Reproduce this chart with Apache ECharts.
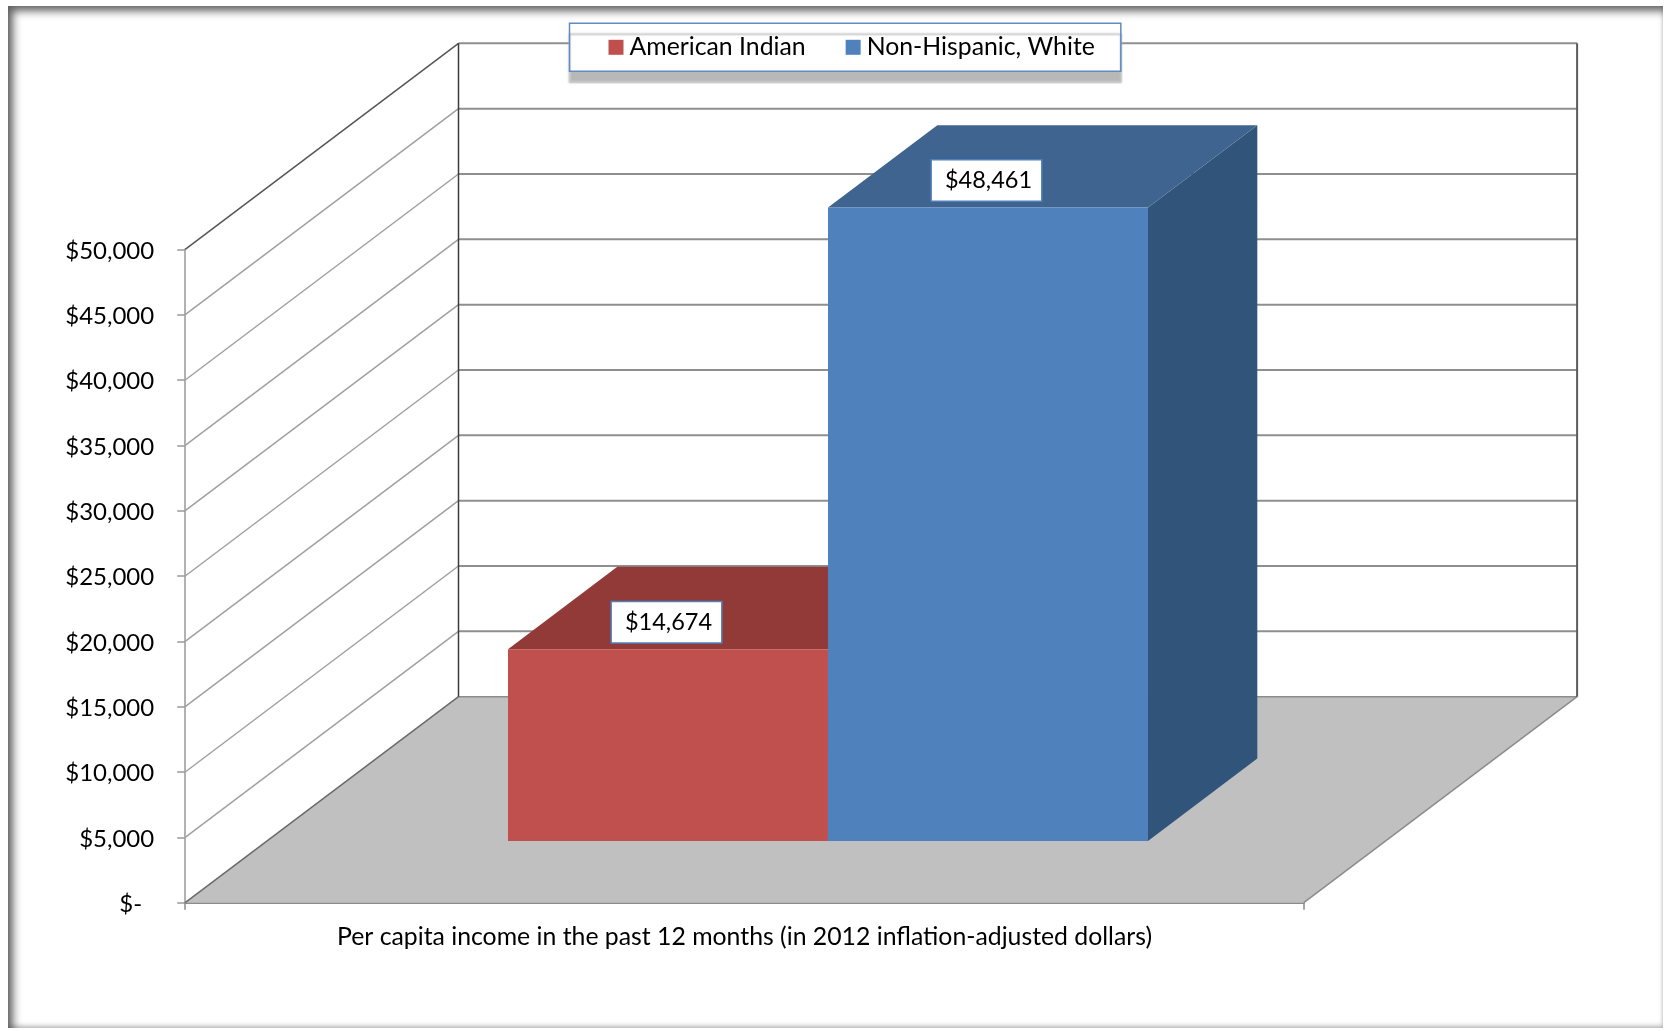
<!DOCTYPE html>
<html>
<head>
<meta charset="utf-8">
<style>
html,body{margin:0;padding:0;background:#fff;width:1670px;height:1031px;overflow:hidden}
#frame{position:absolute;left:8px;top:6px;width:1655px;height:1022px;box-shadow:inset 6px 6px 9px -1px rgba(70,70,70,.85),inset 0 -3px 5px -1px rgba(120,120,120,.5),inset -2px 0 4px -2px rgba(160,160,160,.3)}
#chart{position:absolute;left:0;top:0;width:1670px;height:1031px;filter:blur(0.45px)}
</style>
<script src="https://cdn.jsdelivr.net/npm/echarts@6/dist/echarts.min.js"></script>
</head>
<body>
<div id="frame"></div>
<div id="chart"></div>
<script>
const categories = ['Per capita income in the past 12 months (in 2012 inflation-adjusted dollars)'];
const americanIndian = [14674];
const nonHispanicWhite = [48461];
const yTicks = [0, 5000, 10000, 15000, 20000, 25000, 30000, 35000, 40000, 45000, 50000];

const FONT = 'Lato';
const WALL_DX = 273.3, WALL_DY = 206;     // perspective offset of the back wall
const BAR_FRONT = 0.3, BAR_DEPTH = 0.4;   // bar position in the floor depth
const BAR_SHARE = 320 / 1118.6;           // each bar's share of the category band

function usd(v) {
  return '$' + String(v).replace(/\B(?=(\d{3})+$)/g, ',');
}

function renderFloor(params, api) {
  const cs = params.coordSys;
  const y = api.coord([0, 0])[1];
  const xl = cs.x, xr = cs.x + cs.width;
  return {type: 'group', children: [
    {type: 'polygon', shape: {points: [[xl, y], [xr, y], [xr + WALL_DX, y - WALL_DY], [xl + WALL_DX, y - WALL_DY]]},
      style: {fill: '#c0c0c0', stroke: null}},
    {type: 'line', shape: {x1: xl, y1: y, x2: xl + WALL_DX, y2: y - WALL_DY}, style: {stroke: '#6a6a6a', lineWidth: 1.5}},
    {type: 'line', shape: {x1: xr, y1: y, x2: xr + WALL_DX, y2: y - WALL_DY}, style: {stroke: '#8c8c8c', lineWidth: 1.5}},
    {type: 'line', shape: {x1: xl + WALL_DX, y1: y - WALL_DY, x2: xr + WALL_DX, y2: y - WALL_DY}, style: {stroke: '#8c8c8c', lineWidth: 1.5}}
  ]};
}

function renderGrid(params, api) {
  const cs = params.coordSys;
  const v = api.value(1);
  const y = api.coord([0, v])[1];
  const xl = cs.x, xr = cs.x + cs.width;
  if (v === 0) return {type: 'group', children: []};
  const top = v === yTicks[yTicks.length - 1];
  const children = [
    {type: 'line', shape: {x1: xl, y1: y, x2: xl + WALL_DX, y2: y - WALL_DY},
      style: {stroke: top ? '#555555' : '#a0a0a0', lineWidth: 1.5}},
    {type: 'line', shape: {x1: xl + WALL_DX, y1: y - WALL_DY, x2: xr + WALL_DX, y2: y - WALL_DY},
      style: {stroke: '#8f8f8f', lineWidth: 2}}
  ];
  if (top) {
    const y0 = api.coord([0, 0])[1];
    children.push(
      {type: 'line', shape: {x1: xl + WALL_DX, y1: y - WALL_DY, x2: xl + WALL_DX, y2: y0 - WALL_DY}, style: {stroke: '#3c3c3c', lineWidth: 1.5}},
      {type: 'line', shape: {x1: xr + WALL_DX, y1: y - WALL_DY, x2: xr + WALL_DX, y2: y0 - WALL_DY}, style: {stroke: '#5c5c5c', lineWidth: 2}}
    );
  }
  return {type: 'group', children};
}

function makeBar(slot, front, topFace, sideFace) {
  return function (params, api) {
    const band = api.size([1, 0])[0];
    const w = band * BAR_SHARE;
    const c = api.coord([0, api.value(1)]);
    const base = api.coord([0, 0])[1];
    const ox = WALL_DX * BAR_FRONT, oy = WALL_DY * BAR_FRONT;
    const dx = WALL_DX * BAR_DEPTH, dy = WALL_DY * BAR_DEPTH;
    const x1 = c[0] + ox + 1.5 + (slot - 1) * w, x2 = x1 + w;
    const yTop = c[1] - oy, yBot = base - oy;
    return {type: 'group', children: [
      {type: 'polygon', shape: {points: [[x2, yBot], [x2 + dx, yBot - dy], [x2 + dx, yTop - dy], [x2, yTop]]}, style: {fill: sideFace}},
      {type: 'polygon', shape: {points: [[x1, yTop], [x1 + dx, yTop - dy], [x2 + dx, yTop - dy], [x2, yTop]]}, style: {fill: topFace}},
      {type: 'rect', shape: {x: x1, y: yTop, width: w, height: yBot - yTop}, style: {fill: front}},
      {type: 'text', x: (x1 + x2) / 2 - 1.5, y: yTop - 27, style: {
        text: usd(api.value(1)), fill: '#000', font: '23.5px ' + FONT, align: 'center', verticalAlign: 'middle',
        backgroundColor: '#fff', borderColor: '#4f81bd', borderWidth: 1.5, padding: [8, 9, 8, 13]
      }}
    ]};
  };
}

const chart = echarts.init(document.getElementById('chart'), null, {renderer: 'canvas'});
chart.setOption({
  animation: false,
  backgroundColor: 'transparent',
  textStyle: {fontFamily: FONT},
  legend: {
    left: 569.5, top: 23.3,
    data: ['American Indian', 'Non-Hispanic, White'],
    icon: 'rect', itemWidth: 15, itemHeight: 15, itemGap: 40,
    padding: [11.5, 26, 11.5, 39],
    backgroundColor: '#fff', borderColor: '#5f8ac3', borderWidth: 1.5,
    shadowColor: '#b8b8b8', shadowBlur: 2, shadowOffsetY: 11,
    textStyle: {color: '#000', fontSize: 24.8, fontFamily: FONT, padding: [0, 0, 0, 1]}
  },
  grid: {left: 185.2, top: 249.3, width: 1118.6, height: 653.4},
  xAxis: {
    type: 'category', data: categories,
    axisLine: {show: true, lineStyle: {color: '#8c8c8c', width: 2}},
    axisTick: {show: true, length: 7, lineStyle: {color: '#8c8c8c', width: 1.5}},
    axisLabel: {color: '#000', fontSize: 24.8, fontFamily: FONT, margin: 22},
    splitLine: {show: false}
  },
  yAxis: {
    type: 'value', min: 0, max: 50000, interval: 5000,
    axisLine: {show: true, lineStyle: {color: '#999999', width: 1.5}},
    axisTick: {show: true, length: 8, lineStyle: {color: '#999999', width: 1.5}},
    axisLabel: {
      color: '#000', fontSize: 24, fontFamily: FONT, margin: 31, padding: [3, 0, 0, 0],
      formatter: v => v === 0 ? '{z|$-}' : usd(v),
      rich: {z: {color: '#000', fontSize: 24, fontFamily: FONT, padding: [0, 12, 0, 0]}}
    },
    splitLine: {show: false}
  },
  tooltip: {show: false},
  series: [
    {name: 'floor', type: 'custom', z: 1, silent: true, renderItem: renderFloor, data: [[0, 0]]},
    {name: 'grid', type: 'custom', z: 1, silent: true, renderItem: renderGrid, data: yTicks.map(t => [0, t])},
    {name: 'American Indian', type: 'custom', z: 3, itemStyle: {color: '#c0504d'},
      renderItem: makeBar(0, '#c0504d', '#923a38', '#7f3230'), data: americanIndian.map(v => [0, v])},
    {name: 'Non-Hispanic, White', type: 'custom', z: 4, itemStyle: {color: '#4f81bd'},
      renderItem: makeBar(1, '#4f81bd', '#3e648f', '#31547a'), data: nonHispanicWhite.map(v => [0, v])}
  ]
});
</script>
</body>
</html>
